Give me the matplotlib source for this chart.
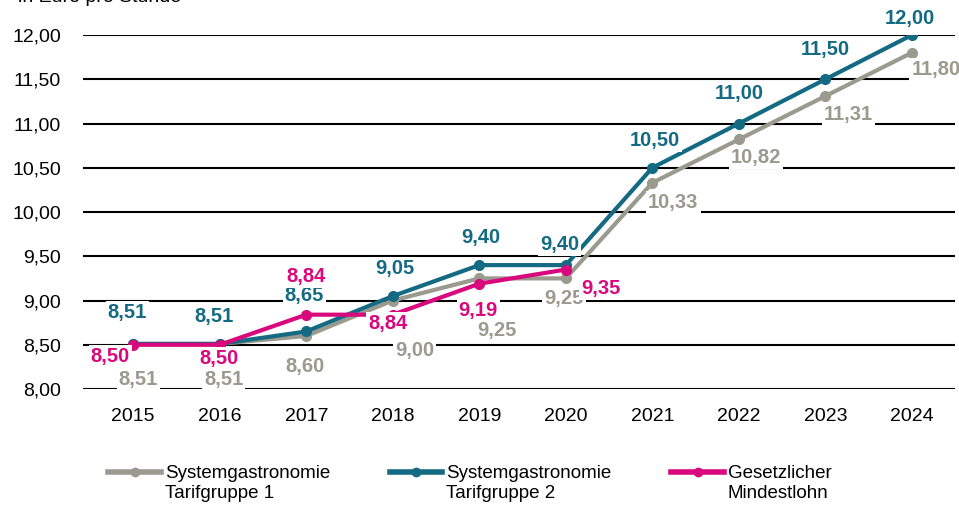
import matplotlib.pyplot as plt
from matplotlib.legend_handler import HandlerLine2D
import numpy as np

plt.rcParams['font.family'] = ['Liberation Sans', 'DejaVu Sans']

years = ["2015", "2016", "2017", "2018", "2019", "2020", "2021", "2022", "2023", "2024"]
tarif1 = [8.51, 8.51, 8.60, 9.00, 9.25, 9.25, 10.33, 10.82, 11.31, 11.80]
tarif2 = [8.51, 8.51, 8.65, 9.05, 9.40, 9.40, 10.50, 11.00, 11.50, 12.00]
mindestlohn = [8.50, 8.50, 8.84, 8.84, 9.19, 9.35]

labels = ["Systemgastronomie\nTarifgruppe 1", "Systemgastronomie\nTarifgruppe 2",
          "Gesetzlicher\nMindestlohn"]
colors = ["#9a9a8e", "#136a82", "#d9087c"]

# label offsets in pixels (dx, dy) per point
off1 = [(5, -36), (4, -36), (-1, -31), (22, -50), (18, -52), (-2, -20),
        (21, -20), (17, -18), (23, -18), (24, -17)]
off2 = [(-6, 31), (-6, 27), (-2, 36), (2, 28), (2, 28), (-6, 21),
        (3, 27), (0, 30), (0, 30), (-2, 17)]
offm = [(-23, -12), (-1, -14), (0, 38), (-5, -9), (-1, -27), (35, -19)]


class HandlerTop(HandlerLine2D):
    # put the legend line on the first text row
    def create_artists(self, legend, orig_handle, xdescent, ydescent,
                       width, height, fontsize, trans):
        arts = super().create_artists(legend, orig_handle, xdescent, ydescent,
                                      width, height, fontsize, trans)
        for a in arts:
            a.set_ydata(np.asarray(a.get_ydata()) + fontsize * 0.6)
        return arts


fig = plt.figure(figsize=(9.59, 5.11), dpi=100)
ax = fig.add_axes([0.0866, 0.2387, 0.9094, 0.6928])

x = np.arange(len(years))
for vals, col, offs, z in [(tarif1, colors[0], off1, 3), (tarif2, colors[1], off2, 4),
                           (mindestlohn, colors[2], offm, 5)]:
    xs = x[:len(vals)]
    ax.plot(xs, vals, color=col, lw=3, marker="o", ms=7, zorder=z, solid_capstyle="round")
    for xi, v, (dx, dy) in zip(xs, vals, offs):
        ax.annotate(f"{v:.2f}".replace(".", ","), (xi, v), xytext=(dx, dy),
                    textcoords="offset pixels", ha="center", va="center",
                    fontsize=14.5, fontweight="bold", color=col, zorder=6,
                    bbox=dict(facecolor="white", edgecolor="none", pad=1.5))

ax.set_xlim(-0.58, 9.5)
ax.set_ylim(8.0, 12.0)
ax.set_yticks(np.arange(8.0, 12.01, 0.5))
ax.set_yticklabels([f"{v:.2f}".replace(".", ",") for v in np.arange(8.0, 12.01, 0.5)])
ax.set_xticks(x)
ax.set_xticklabels(years)
ax.tick_params(length=0, labelsize=14)
ax.tick_params(axis="x", pad=14)
ax.tick_params(axis="y", pad=16)
ax.grid(axis="y", color="black", lw=1.5, zorder=1)
for s in ax.spines.values():
    s.set_visible(False)
ax.set_axisbelow(True)

fig.text(0.019, 0.997, "in Euro pro Stunde", fontsize=14, va="baseline")

handles = [plt.Line2D([], [], color=c, lw=4, marker="o", ms=6) for c in colors]
fig.legend(handles, labels, loc="lower center", ncol=3, frameon=False, fontsize=13.5,
           bbox_to_anchor=(0.49, -0.015), handlelength=2.8, handletextpad=0.2,
           columnspacing=3.2, handler_map={plt.Line2D: HandlerTop()})

fig.savefig("out.png", dpi=100)
